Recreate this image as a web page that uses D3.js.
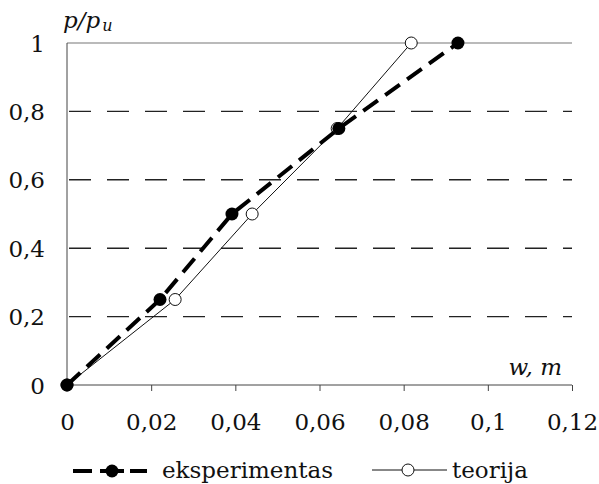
<!DOCTYPE html>
<html>
<head>
<meta charset="utf-8">
<script src="https://cdn.jsdelivr.net/npm/d3@7"></script>
<style>
  body { margin: 0; background: #fff; }
  svg { display: block; }
</style>
</head>
<body>
<svg width="599" height="484" viewBox="0 0 599 484"></svg>
<script>
const xTicks = [0, 0.02, 0.04, 0.06, 0.08, 0.1, 0.12]
const yTicks = [0, 0.2, 0.4, 0.6, 0.8, 1]
const expW = [0, 0.0221, 0.0392, 0.0646, 0.0929]
const expP = [0, 0.25, 0.5, 0.75, 1]
const theoW = [0, 0.0257, 0.044, 0.0642, 0.0818]
const theoP = [0, 0.25, 0.5, 0.75, 1]

const FONT = 'DejaVu Serif'
const svg = d3.select('svg')
const fmt = (n) => String(n).replace('.', ',')

const x = d3.scaleLinear().domain([0, 0.12]).range([67, 572])
const y = d3.scaleLinear().domain([0, 1]).range([385, 43])

// gridlines
svg.append('g')
  .selectAll('line')
  .data(yTicks.filter(d => d > 0 && d < 1))
  .join('line')
  .attr('x1', x(0)).attr('x2', x(0.12))
  .attr('y1', d => y(d)).attr('y2', d => y(d))
  .attr('stroke', '#222').attr('stroke-width', 1.4)
  .attr('stroke-dasharray', '22,16')
  .attr('stroke-dashoffset', -2)

svg.append('line')
  .attr('x1', x(0)).attr('x2', x(0.12))
  .attr('y1', y(1)).attr('y2', y(1))
  .attr('stroke', '#777').attr('stroke-width', 1.2)

// axes
const xAxis = d3.axisBottom(x).tickValues(xTicks).tickSize(6).tickFormat(fmt)
const gx = svg.append('g').attr('transform', `translate(0,${y(0)})`).call(xAxis)
gx.select('.domain').attr('stroke', '#444').attr('d', `M${x(0)},0H${x(0.12)}`)
gx.selectAll('.tick line').attr('stroke', '#444')
gx.selectAll('.tick text')
  .attr('font-family', FONT).attr('font-size', 23).attr('fill', '#111')
  .attr('dy', null).attr('y', 45)

const yAxis = d3.axisLeft(y).tickValues(yTicks).tickSize(0).tickFormat(fmt)
const gy = svg.append('g').attr('transform', `translate(${x(0)},0)`).call(yAxis)
gy.select('.domain').attr('stroke', '#444').attr('d', `M0,${y(0)}V${y(1)}`)
gy.selectAll('.tick text')
  .attr('font-family', FONT).attr('font-size', 23).attr('fill', '#111')
  .attr('x', -22).attr('dy', '0.35em')

// axis titles
const yt = svg.append('text').attr('x', 63).attr('y', 28)
  .attr('font-family', FONT).attr('font-size', 23).attr('font-style', 'italic').attr('fill', '#111')
yt.append('tspan').text('p/p')
yt.append('tspan').attr('font-size', 16).attr('dy', 3).attr('dx', 2).text('u')

svg.append('text').attr('x', 562).attr('y', 375)
  .attr('text-anchor', 'end')
  .attr('font-family', FONT).attr('font-size', 23).attr('font-style', 'italic').attr('fill', '#111')
  .text('w, m')

// series
const line = d3.line().x(d => x(d[0])).y(d => y(d[1]))
const theo = theoW.map((w, i) => [w, theoP[i]])
const exp = expW.map((w, i) => [w, expP[i]])

svg.append('path').datum(theo).attr('d', line)
  .attr('fill', 'none').attr('stroke', '#111').attr('stroke-width', 1)
svg.append('g').selectAll('circle').data(theo).join('circle')
  .attr('cx', d => x(d[0])).attr('cy', d => y(d[1])).attr('r', 6)
  .attr('fill', '#fff').attr('stroke', '#111').attr('stroke-width', 1)

svg.append('path').datum(exp).attr('d', line)
  .attr('fill', 'none').attr('stroke', '#000').attr('stroke-width', 4)
  .attr('stroke-dasharray', '18,9')
svg.append('g').selectAll('circle').data(exp).join('circle')
  .attr('cx', d => x(d[0])).attr('cy', d => y(d[1])).attr('r', 6.5)
  .attr('fill', '#000')

// legend
const lg = svg.append('g')
lg.append('line').attr('x1', 73).attr('x2', 147).attr('y1', 471).attr('y2', 471)
  .attr('stroke', '#000').attr('stroke-width', 4).attr('stroke-dasharray', '19,8,24,6,17')
lg.append('circle').attr('cx', 112).attr('cy', 471).attr('r', 6.5).attr('fill', '#000')
lg.append('text').attr('x', 162).attr('y', 478)
  .attr('font-family', FONT).attr('font-size', 23).attr('fill', '#111')
  .text('eksperimentas')

lg.append('line').attr('x1', 372).attr('x2', 447).attr('y1', 470).attr('y2', 470)
  .attr('stroke', '#111').attr('stroke-width', 1)
lg.append('circle').attr('cx', 408).attr('cy', 470).attr('r', 6)
  .attr('fill', '#fff').attr('stroke', '#111').attr('stroke-width', 1)
lg.append('text').attr('x', 452).attr('y', 478)
  .attr('font-family', FONT).attr('font-size', 23).attr('fill', '#111')
  .text('teorija')
</script>
</body>
</html>
